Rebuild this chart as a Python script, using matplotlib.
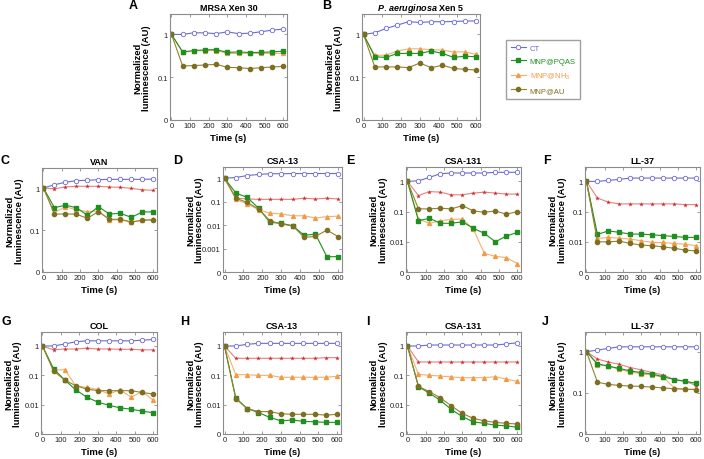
import matplotlib
matplotlib.use("Agg")
import matplotlib.pyplot as plt

plt.rcParams['font.family'] = ['Liberation Sans', 'DejaVu Sans']
plt.rcParams['mathtext.fontset'] = 'custom'
plt.rcParams['mathtext.rm'] = 'Liberation Sans'
plt.rcParams['mathtext.it'] = 'Liberation Sans:italic:bold'
plt.rcParams['mathtext.bf'] = 'Liberation Sans:bold'

# 时间点 (s)
times = [0, 60, 120, 180, 240, 300, 360, 420, 480, 540, 600]

# A: MRSA Xen 30
ct_A = [1.0, 1.0, 1.09, 1.09, 1.04, 1.15, 1.04, 1.07, 1.15, 1.26, 1.33]
pqas_A = [1.0, 0.39, 0.42, 0.435, 0.44, 0.38, 0.39, 0.377, 0.38, 0.39, 0.405]
nh3_A = [1.0, 0.38, 0.41, 0.42, 0.42, 0.36, 0.36, 0.36, 0.36, 0.36, 0.36]
au_A = [1.0, 0.183, 0.187, 0.193, 0.2, 0.17, 0.167, 0.159, 0.167, 0.173, 0.18]

# B: P. aeruginosa Xen 5
ct_B = [1.0, 1.09, 1.38, 1.65, 1.98, 1.9, 1.98, 1.98, 2.0, 2.06, 2.06]
pqas_B = [1.0, 0.30, 0.29, 0.36, 0.36, 0.36, 0.41, 0.36, 0.29, 0.31, 0.30]
nh3_B = [1.0, 0.327, 0.327, 0.41, 0.46, 0.46, 0.44, 0.43, 0.39, 0.39, 0.34]
au_B = [1.0, 0.174, 0.174, 0.174, 0.167, 0.215, 0.167, 0.19, 0.16, 0.153, 0.147]

# C: VAN
ct_C = [1.0, 1.2, 1.37, 1.5, 1.53, 1.58, 1.61, 1.61, 1.61, 1.61, 1.64]
abx_C = [1.0, 0.96, 1.06, 1.1, 1.1, 1.1, 1.06, 1.04, 0.98, 0.91, 0.88]
pqas_C = [1.0, 0.34, 0.39, 0.34, 0.225, 0.36, 0.24, 0.25, 0.2, 0.27, 0.27]
nh3_C = [1.0, 0.26, 0.36, 0.30, 0.275, 0.285, 0.174, 0.174, 0.153, 0.174, 0.18]
au_C = [1.0, 0.238, 0.242, 0.238, 0.19, 0.275, 0.18, 0.18, 0.156, 0.17, 0.174]

# D: CSA-13 (MRSA)
ct_D = [1.0, 1.07, 1.3, 1.44, 1.55, 1.55, 1.58, 1.58, 1.58, 1.58, 1.58]
abx_D = [1.0, 0.14, 0.13, 0.125, 0.125, 0.125, 0.125, 0.14, 0.13, 0.14, 0.13]
pqas_D = [1.0, 0.23, 0.153, 0.052, 0.013, 0.012, 0.0093, 0.0037, 0.0041, 0.00045, 0.00045]
nh3_D = [1.0, 0.126, 0.08, 0.045, 0.032, 0.03, 0.025, 0.025, 0.02, 0.023, 0.024]
au_D = [1.0, 0.139, 0.093, 0.048, 0.0154, 0.011, 0.0093, 0.0030, 0.0033, 0.0061, 0.0032]

# E: CSA-131 (MRSA)
ct_E = [1.0, 1.05, 1.36, 1.8, 1.9, 1.9, 1.9, 1.9, 2.0, 2.0, 2.0]
abx_E = [1.0, 0.34, 0.46, 0.44, 0.36, 0.36, 0.41, 0.44, 0.41, 0.38, 0.38]
pqas_E = [1.0, 0.05, 0.06, 0.041, 0.041, 0.046, 0.028, 0.019, 0.01, 0.0155, 0.0205]
nh3_E = [1.0, 0.057, 0.041, 0.05, 0.055, 0.057, 0.026, 0.0041, 0.0033, 0.003, 0.0019]
au_E = [1.0, 0.123, 0.123, 0.129, 0.123, 0.158, 0.105, 0.095, 0.105, 0.082, 0.1]

# F: LL-37 (MRSA)
ct_F = [1.0, 1.0, 1.08, 1.17, 1.29, 1.29, 1.29, 1.29, 1.29, 1.29, 1.29]
abx_F = [1.0, 0.28, 0.205, 0.18, 0.18, 0.18, 0.18, 0.18, 0.18, 0.17, 0.17]
pqas_F = [1.0, 0.0176, 0.023, 0.0205, 0.018, 0.018, 0.017, 0.016, 0.015, 0.014, 0.014]
nh3_F = [1.0, 0.0129, 0.0139, 0.0132, 0.0123, 0.0108, 0.0095, 0.0095, 0.0088, 0.0083, 0.0074]
au_F = [1.0, 0.01, 0.01, 0.0105, 0.0088, 0.0078, 0.0074, 0.0068, 0.0061, 0.0053, 0.005]

# G: COL
ct_G = [1.0, 1.0, 1.17, 1.39, 1.5, 1.5, 1.5, 1.5, 1.5, 1.58, 1.67]
abx_G = [1.0, 0.74, 0.79, 0.79, 0.84, 0.79, 0.79, 0.77, 0.77, 0.74, 0.74]
pqas_G = [1.0, 0.167, 0.07, 0.032, 0.018, 0.0122, 0.0095, 0.0078, 0.007, 0.006, 0.0053]
nh3_G = [1.0, 0.147, 0.158, 0.044, 0.039, 0.033, 0.023, 0.032, 0.018, 0.028, 0.014]
au_G = [1.0, 0.14, 0.07, 0.044, 0.034, 0.03, 0.03, 0.03, 0.03, 0.026, 0.023]

# H: CSA-13 (P. aeruginosa)
ct_H = [1.0, 1.0, 1.14, 1.23, 1.23, 1.23, 1.23, 1.23, 1.23, 1.23, 1.23]
abx_H = [1.0, 0.38, 0.38, 0.38, 0.38, 0.38, 0.38, 0.38, 0.38, 0.4, 0.4]
pqas_H = [1.0, 0.017, 0.0074, 0.0054, 0.0037, 0.0028, 0.003, 0.0027, 0.0026, 0.0025, 0.0025]
nh3_H = [1.0, 0.105, 0.105, 0.1, 0.1, 0.086, 0.086, 0.086, 0.086, 0.086, 0.093]
au_H = [1.0, 0.016, 0.0074, 0.0058, 0.0058, 0.0049, 0.0047, 0.0047, 0.0047, 0.0044, 0.0047]

# I: CSA-131 (P. aeruginosa)
ct_I = [1.0, 1.0, 1.08, 1.08, 1.08, 1.08, 1.08, 1.08, 1.08, 1.17, 1.29]
abx_I = [1.0, 0.285, 0.285, 0.285, 0.285, 0.285, 0.285, 0.285, 0.285, 0.285, 0.285]
pqas_I = [1.0, 0.041, 0.0245, 0.014, 0.0068, 0.0039, 0.0026, 0.0023, 0.002, 0.0019, 0.0017]
nh3_I = [1.0, 0.108, 0.1, 0.095, 0.088, 0.083, 0.083, 0.083, 0.09, 0.074, 0.062]
au_I = [1.0, 0.042, 0.0278, 0.017, 0.0091, 0.005, 0.0034, 0.0028, 0.0025, 0.0023, 0.0022]

# J: LL-37 (P. aeruginosa)
ct_J = [1.0, 1.09, 1.2, 1.31, 1.31, 1.31, 1.31, 1.31, 1.31, 1.31, 1.31]
abx_J = [1.0, 0.66, 0.56, 0.49, 0.41, 0.36, 0.31, 0.27, 0.21, 0.19, 0.15]
pqas_J = [1.0, 0.505, 0.445, 0.39, 0.34, 0.31, 0.285, 0.245, 0.21, 0.19, 0.17]
nh3_J = [1.0, 0.487, 0.445, 0.37, 0.32, 0.29, 0.27, 0.237, 0.131, 0.122, 0.122]
au_J = [1.0, 0.181, 0.16, 0.151, 0.146, 0.143, 0.138, 0.131, 0.126, 0.122, 0.12]

titles = ["MRSA Xen 30", r"$\mathit{P.\,aeruginosa}$ Xen 5", "VAN", "CSA-13", "CSA-131",
          "LL-37", "COL", "CSA-13", "CSA-131", "LL-37"]
letters = ["A", "B", "C", "D", "E", "F", "G", "H", "I", "J"]
# y轴最低刻度 (标为 "0")
y_bottoms = [0.01, 0.01, 0.01, 1e-4, 1e-3, 1e-3, 1e-3, 1e-3, 1e-3, 0.01]

series = [
    (ct_A, None, pqas_A, nh3_A, au_A),
    (ct_B, None, pqas_B, nh3_B, au_B),
    (ct_C, abx_C, pqas_C, nh3_C, au_C),
    (ct_D, abx_D, pqas_D, nh3_D, au_D),
    (ct_E, abx_E, pqas_E, nh3_E, au_E),
    (ct_F, abx_F, pqas_F, nh3_F, au_F),
    (ct_G, abx_G, pqas_G, nh3_G, au_G),
    (ct_H, abx_H, pqas_H, nh3_H, au_H),
    (ct_I, abx_I, pqas_I, nh3_I, au_I),
    (ct_J, abx_J, pqas_J, nh3_J, au_J),
]

W, H = 704, 460
# 像素框: 左, 上, 右, 下
boxes = [(170, 15, 287, 121), (362, 15, 480, 121),
         (42, 169, 157, 273), (223, 168, 342, 273), (406, 168, 521, 273), (585, 168, 700, 273),
         (41, 333, 157, 435), (223, 333, 341, 435), (406, 333, 521, 435), (585, 333, 700, 435)]
letter_pos = [(133, 6), (327, 6), (5, 161), (178, 161), (350, 161), (547, 161),
              (6, 322), (185, 322), (368, 322), (545, 322)]

c_ct = "#6b6bd0"
c_abx_line = "#e98080"
c_abx = "#d02828"
c_pqas = "#1f8f1f"
c_nh3_line = "#f5b070"
c_nh3 = "#f39a45"
c_au_line = "#8f8430"
c_au = "#7d6e22"
spine_c = "#8c8c8c"

fig = plt.figure(figsize=(W / 100, H / 100), dpi=100)

handles = None
for i, (ct, abx, pqas, nh3, au) in enumerate(series):
    l, t, r, b = boxes[i]
    ax = fig.add_axes([l / W, 1 - b / H, (r - l) / W, (b - t) / H])
    ax.set_yscale("log")

    h_ct, = ax.plot(times, ct, "-o", color=c_ct, lw=0.8, ms=3.2, mfc="white", mec=c_ct, mew=0.6, label="CT")
    if abx is not None:
        ax.plot(times, abx, "-", color=c_abx_line, lw=0.8)
        ax.plot(times, abx, "*", color=c_abx, ms=3.5, mew=0)
    h_nh3, = ax.plot(times, nh3, "-^", color=c_nh3_line, lw=0.8, ms=2.8, mfc=c_nh3, mec=c_nh3, label="MNP@NH$_3$")
    h_pqas, = ax.plot(times, pqas, "-s", color=c_pqas, lw=0.8, ms=3.2, mfc=c_pqas, mec=c_pqas, label="MNP@PQAS")
    h_au, = ax.plot(times, au, "-o", color=c_au_line, lw=0.8, ms=3.0, mfc=c_au, mec=c_au, label="MNP@AU")
    if handles is None:
        handles = [h_ct, h_pqas, h_nh3, h_au]

    yb = y_bottoms[i]
    ax.set_ylim(yb, 3)
    ax.set_xlim(-8, 620)
    ticks = [yb]
    labels = ["0"]
    v = yb * 10
    while v <= 1.0001:
        ticks.append(v)
        labels.append("1" if abs(v - 1) < 1e-9 else ("%g" % v))
        v *= 10
    ax.set_yticks(ticks)
    ax.set_yticklabels(labels)
    ax.yaxis.set_minor_locator(matplotlib.ticker.NullLocator())
    ax.set_xticks([0, 100, 200, 300, 400, 500, 600])

    ax.tick_params(direction="in", length=2, width=0.6, colors=spine_c, labelcolor="#222222",
                   labelsize=5.5, pad=1.5, top=True, right=True)
    for s in ax.spines.values():
        s.set_color(spine_c)
        s.set_linewidth(0.8)

    ax.set_title(titles[i], fontsize=6.5, fontweight="bold", pad=3)
    ax.set_xlabel("Time (s)", fontsize=6.8, fontweight="bold", labelpad=2.5)
    ax.set_ylabel("Normalized\nluminescence (AU)", fontsize=6.8, fontweight="bold", linespacing=1.0)
    ax.yaxis.set_label_coords(-0.16, 0.5)

    lx, ly = letter_pos[i]
    fig.text(lx / W, 1 - ly / H, letters[i], fontsize=9, fontweight="bold", ha="center", va="center")

leg = fig.legend(handles=handles, loc="upper left", bbox_to_anchor=(506 / W, 1 - 41 / H),
                 fontsize=5.5, frameon=True, fancybox=False, handlelength=2.0,
                 borderpad=0.6, labelspacing=0.75, handletextpad=0.5, borderaxespad=0)
leg.get_frame().set_edgecolor("#888888")
leg.get_frame().set_linewidth(1.0)
for txt, c in zip(leg.get_texts(), [c_ct, c_pqas, c_nh3, c_au]):
    txt.set_color(c)

fig.savefig("out.png", dpi=100)
